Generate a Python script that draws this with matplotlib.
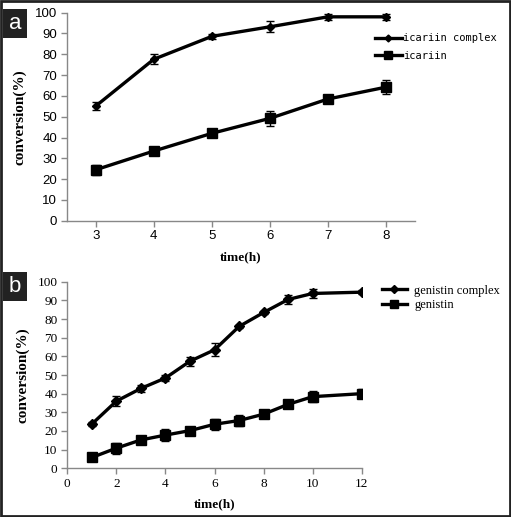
import matplotlib.pyplot as plt
from matplotlib.patches import Rectangle
from matplotlib.lines import Line2D

# panel a
time_a = [3, 4, 5, 6, 7, 8]
icariin_complex = [55.1, 77.6, 88.6, 93.2, 98.0, 98.0]
icariin_complex_err = [2.0, 2.3, 1.3, 2.7, 1.3, 1.3]
icariin = [24.5, 33.5, 42.0, 49.2, 58.5, 64.2]
icariin_err = [2.5, 2.0, 1.5, 3.5, 2.0, 3.5]

# panel b
time_b = [1, 2, 3, 4, 5, 6, 7, 8, 9, 10, 12]
genistin_complex = [23.7, 36.0, 42.8, 48.4, 57.4, 63.5, 76.0, 83.5, 90.5, 93.7, 94.4]
genistin_complex_err = [1.0, 2.5, 2.0, 1.5, 2.5, 3.5, 1.0, 1.0, 2.5, 2.5, 1.0]
genistin = [5.8, 10.8, 15.2, 17.8, 20.2, 23.6, 25.6, 29.0, 34.3, 38.4, 40.0]
genistin_err = [2.0, 3.0, 1.0, 3.0, 1.5, 3.0, 3.0, 1.0, 1.0, 3.0, 2.5]

fig = plt.figure(figsize=(5.11, 5.17), dpi=100)
fig.patch.set_facecolor('white')

# outer frame
fig.patches.append(Rectangle((0.002, 0.002), 0.996, 0.996, transform=fig.transFigure,
                             fill=False, edgecolor='#222222', linewidth=2))

serif = 'Liberation Serif'
axis_col = '#888888'


def style(ax):
    for s in ['top', 'right']:
        ax.spines[s].set_visible(False)
    for s in ['left', 'bottom']:
        ax.spines[s].set_color(axis_col)
        ax.spines[s].set_linewidth(1)
    ax.tick_params(color=axis_col, direction='out', length=4, width=1, pad=3)


def series(ax, x, y, err, marker, ms):
    ax.errorbar(x, y, yerr=err, color='black', lw=2.4, marker=marker, ms=ms,
                elinewidth=1, capsize=3, capthick=1)


def handle(marker, ms):
    return Line2D([], [], color='black', lw=2.4, marker=marker, ms=ms)


# ---- panel a
ax1 = fig.add_axes([0.1305, 0.573, 0.6815, 0.4025])
series(ax1, time_a, icariin_complex, icariin_complex_err, 'D', 4.5)
series(ax1, time_a, icariin, icariin_err, 's', 6.5)
ax1.set_xlim(2.5, 8.5)
ax1.set_ylim(0, 100)
ax1.set_xticks(time_a)
ax1.set_yticks(range(0, 101, 10))
style(ax1)
ax1.tick_params(labelsize=9.5)
for lab in ax1.get_xticklabels() + ax1.get_yticklabels():
    lab.set_family('Liberation Sans')
ax1.set_xlabel('time(h)', family=serif, fontweight='bold', fontsize=9.5, labelpad=6)
ax1.set_ylabel('conversion(%)', family=serif, fontweight='bold', fontsize=11, labelpad=6)
fig.legend([handle('D', 3.5), handle('s', 5.5)], ['icariin complex', 'icariin'],
           loc='upper left', bbox_to_anchor=(0.715, 0.954),
           frameon=False, handlelength=2.6, handletextpad=0.1, labelspacing=0.75,
           prop={'family': 'DejaVu Sans Mono', 'size': 7.5})

# ---- panel b
ax2 = fig.add_axes([0.1317, 0.0942, 0.5763, 0.3609])
series(ax2, time_b, genistin_complex, genistin_complex_err, 'D', 5)
series(ax2, time_b, genistin, genistin_err, 's', 6.5)
ax2.set_xlim(0, 12)
ax2.set_ylim(0, 100)
ax2.set_xticks(range(0, 13, 2))
ax2.set_yticks(range(0, 101, 10))
style(ax2)
ax2.tick_params(labelsize=9.5)
for lab in ax2.get_xticklabels() + ax2.get_yticklabels():
    lab.set_family(serif)
ax2.set_xlabel('time(h)', family=serif, fontweight='bold', fontsize=9.5, labelpad=6)
ax2.set_ylabel('conversion(%)', family=serif, fontweight='bold', fontsize=11, labelpad=6)
fig.legend([handle('D', 4), handle('s', 5.5)], ['genistin complex', 'genistin'],
           loc='upper left', bbox_to_anchor=(0.725, 0.471),
           frameon=False, handlelength=2.0, handletextpad=0.6, labelspacing=0.2,
           prop={'family': serif, 'size': 9})

# panel letters
for letter, y0 in [('a', 0.927), ('b', 0.418)]:
    fig.patches.append(Rectangle((0.006, y0), 0.046, 0.055, transform=fig.transFigure,
                                 facecolor='#222222', edgecolor='none'))
    fig.text(0.029, y0 + 0.027, letter, color='white', fontsize=16, ha='center', va='center',
             family='Liberation Sans')

fig.savefig('out.png', dpi=100)
